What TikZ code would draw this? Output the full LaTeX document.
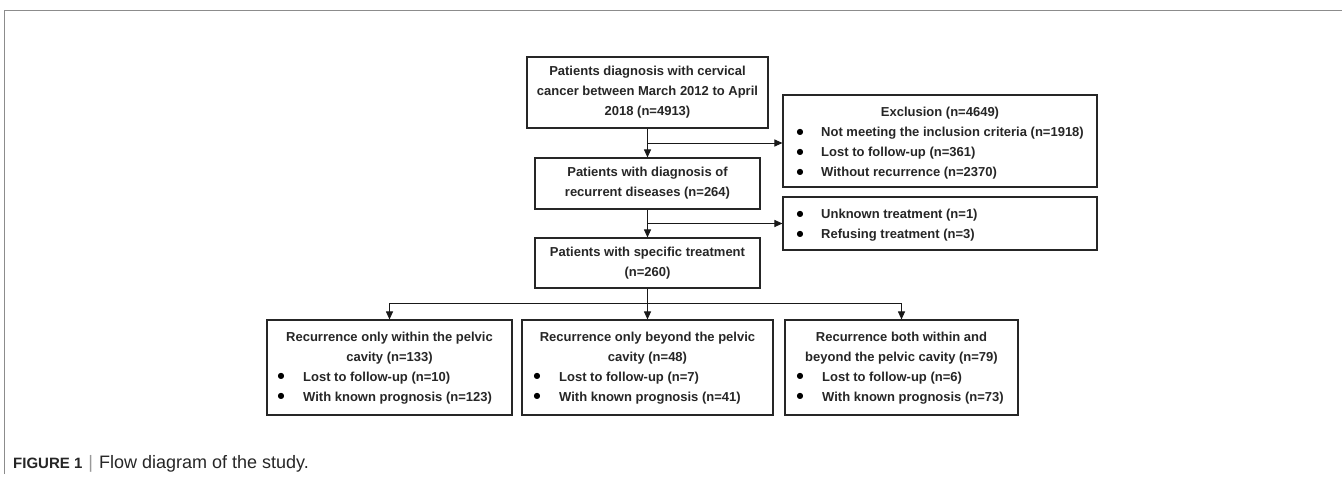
\documentclass[tikz,border=0pt]{standalone}
\usepackage{fontspec}
\setmainfont{Liberation Sans}
\newfontfamily\dv{DejaVu Sans}
\usetikzlibrary{arrows.meta,calc}
\begin{document}
\begin{tikzpicture}[x=1pt,y=-1pt,
  box/.style={draw=black!85, line width=1.1pt, inner sep=0pt, align=center,
    font=\fontsize{13}{20}\selectfont\bfseries, text=black!85},
  txt/.style={inner sep=0pt, anchor=base west, font=\fontsize{13}{20}\selectfont\bfseries, text=black!85},
  ctxt/.style={inner sep=0pt, anchor=center, align=center, font=\fontsize{13}{20}\selectfont\bfseries, text=black!85},
  bul/.style={inner sep=0pt, anchor=center, font=\dv\fontsize{8}{8}\selectfont, text=black},
  conn/.style={line width=1pt, draw=black!90},
  arr/.style={conn, -{Triangle[length=8pt,width=7pt]}},
  framel/.style={draw=black!45, line width=1pt}]

\useasboundingbox (0,0) rectangle (1342,479);

% frame
\coordinate (fl) at (4,10);
\coordinate (fr) at (1342,10);
\coordinate (fb) at (4,474);
\draw[framel] (fb) -- (fl) -- (fr);

% main column
\node[box, minimum width=241, minimum height=71] (b1) at (647.5,92.5)
  {Patients diagnosis with cervical\\cancer between March 2012 to April\\2018 (n=4913)};
\node[box, minimum width=225, minimum height=51] (b2) at (647.5,183.5)
  {Patients with diagnosis of\\recurrent diseases (n=264)};
\node[box, minimum width=225, minimum height=50] (b3) at (647.5,263)
  {Patients with specific treatment\\(n=260)};

% exclusion boxes
\node[box, minimum width=314, minimum height=92] (ex) at (940,141) {};
\node[txt, anchor=base] (ext) at (940,116.5) {Exclusion (n=4649)};
\node[bul] (exb1) at (800,132) {●};
\node[bul] (exb2) at (800,152) {●};
\node[bul] (exb3) at (800,172) {●};
\node[txt] (ex1) at (821,136.5) {Not meeting the inclusion criteria (n=1918)};
\node[txt] (ex2) at (821,156.5) {Lost to follow-up (n=361)};
\node[txt] (ex3) at (821,176.5) {Without recurrence (n=2370)};

\node[box, minimum width=314, minimum height=53] (uk) at (940,223.5) {};
\node[bul] (ukb1) at (800,214) {●};
\node[bul] (ukb2) at (800,234) {●};
\node[txt] (uk1) at (821,218.5) {Unknown treatment (n=1)};
\node[txt] (uk2) at (821,238.5) {Refusing treatment (n=3)};

% bottom boxes
\node[box, minimum width=245, minimum height=95] (bl) at (389.5,367.5) {};
\node[ctxt] (blt) at (389.5,348) {Recurrence only within the pelvic\\cavity (n=133)};
\node[bul] (blb1) at (281,376) {●};
\node[bul] (blb2) at (281,396) {●};
\node[txt] (bl1) at (303,381) {Lost to follow-up (n=10)};
\node[txt] (bl2) at (303,401) {With known prognosis (n=123)};

\node[box, minimum width=251, minimum height=95] (bm) at (647.5,367.5) {};
\node[ctxt] (bmt) at (647.5,348) {Recurrence only beyond the pelvic\\cavity (n=48)};
\node[bul] (bmb1) at (537,376) {●};
\node[bul] (bmb2) at (537,396) {●};
\node[txt] (bm1) at (559,381) {Lost to follow-up (n=7)};
\node[txt] (bm2) at (559,401) {With known prognosis (n=41)};

\node[box, minimum width=233, minimum height=95] (br) at (901.5,367.5) {};
\node[ctxt] (brt) at (901.5,348) {Recurrence both within and\\beyond the pelvic cavity (n=79)};
\node[bul] (brb1) at (800,376) {●};
\node[bul] (brb2) at (800,396) {●};
\node[txt] (br1) at (822,381) {Lost to follow-up (n=6)};
\node[txt] (br2) at (822,401) {With known prognosis (n=73)};

% connectors
\draw[arr] (b1.south) -- (b2.north);
\coordinate (s1) at ($(b1.south)!0.5!(b2.north)$);
\draw[arr] (s1) -- (s1 -| ex.west);
\draw[arr] (b2.south) -- (b3.north);
\coordinate (s2) at ($(b2.south)!0.5!(b3.north)$);
\draw[arr] (s2) -- (s2 -| uk.west);
\coordinate (s3) at ($(b3.south)+(0,15)$);
\draw[arr] (b3.south) -- (bm.north);
\draw[arr] (s3) -| (bl.north);
\draw[arr] (s3) -| (br.north);

% caption
\node[inner sep=0pt, anchor=base west, text=black!85] (cap) at (13,468)
  {\fontsize{15}{18}\selectfont\textbf{FIGURE 1}\hspace{6pt}{\color{black!40}\fontsize{18}{18}\selectfont|}\hspace{6pt}\fontsize{18}{18}\selectfont Flow diagram of the study.};
\end{tikzpicture}
\end{document}
